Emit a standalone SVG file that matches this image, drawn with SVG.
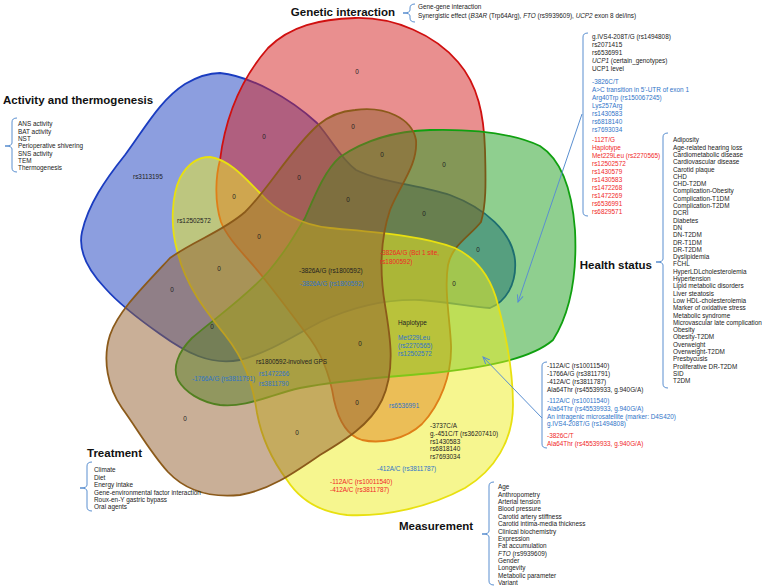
<svg xmlns="http://www.w3.org/2000/svg" width="762" height="587" viewBox="0 0 762 587">
<style>
.t{font-family:"Liberation Sans",Arial,sans-serif;font-size:6.4px;fill:#222}
.b{fill:#2f74c8}
.r{fill:#f02828}
.h{font-family:"Liberation Sans",Arial,sans-serif;font-size:11.5px;font-weight:bold;fill:#111}
.br{fill:none;stroke:#5a8fd0;stroke-width:1}
.set{stroke-width:1.8;fill-opacity:0.5}
</style>
<defs>
<marker id="ah" markerWidth="8" markerHeight="8" refX="7" refY="4" orient="auto" markerUnits="userSpaceOnUse">
<path d="M0,1 L7,4 L0,7" fill="none" stroke="#5a8fd0" stroke-width="1"/>
</marker>
</defs>
<rect width="762" height="587" fill="#fff"/>
<g id="activity">
<path class="set" d="M 220,73 C 250,76 290,98 317,123 C 332,140 340,158 356,170 C 380,182 420,185 450,195 C 485,208 512,232 515,260 C 517,285 505,302 490,308 C 470,307 450,302 420,300 C 385,299 350,308 320,322 C 295,335 270,352 240,360 C 210,366 185,352 160,334 C 140,320 120,305 105,288 C 88,270 78,250 82,232 C 88,205 105,180 125,155 C 145,128 160,100 185,84 C 197,77 208,73 220,73 Z" fill="#1a3dbf" stroke="#1a3cc0"/>
</g>
<g id="genetic">
<path class="set" d="M 355,18 C 395,17 435,35 458,62 C 478,85 484,115 485,150 C 486,185 486,205 481,222 C 470,236 452,245 448,265 C 444,290 450,320 451,345 C 452,375 440,405 422,424 C 405,440 380,444 362,440 C 345,435 338,418 334,400 C 330,375 320,350 305,332 C 290,312 275,292 262,276 C 248,258 228,240 221,222 C 214,200 216,175 220,160 C 225,120 240,80 268,48 C 290,26 320,19 355,18 Z" fill="#d42020" stroke="#d01010"/>
</g>
<g id="health">
<path class="set" d="M 340,157 C 365,140 395,131 430,130 C 470,129 510,132 540,146 C 562,160 572,190 575,230 C 577,270 572,310 553,340 C 530,360 480,368 433,373 C 390,377 340,380 300,388 C 270,395 245,408 220,405 C 200,402 185,392 178,380 C 172,368 178,352 192,338 C 215,318 245,298 268,272 C 285,252 295,235 305,218 C 315,195 325,170 340,157 Z" fill="#20a020" stroke="#10a010"/>
</g>
<g id="measurement">
<path class="set" d="M 210,157 C 230,160 245,178 260,193 C 275,210 300,225 330,228 C 370,232 420,235 455,248 C 480,260 492,280 498,305 C 506,335 513,370 513,405 C 513,440 495,470 465,488 C 430,507 385,517 347,515 C 320,512 300,500 287,480 C 272,460 262,440 257,413 C 253,385 245,360 225,335 C 205,310 185,285 177,250 C 170,225 172,195 180,178 C 188,163 198,157 210,157 Z" fill="#eeee20" stroke="#e8e010"/>
</g>
<g id="treatment">
<path class="set" d="M 355,110 C 385,106 412,118 416,140 C 418,165 400,185 390,210 C 380,240 380,275 385,305 C 390,335 396,370 382,400 C 370,425 345,440 320,455 C 295,472 270,490 240,495 C 210,498 185,490 168,472 C 150,452 138,430 122,408 C 108,388 102,360 110,335 C 118,312 140,290 170,258 C 195,240 222,232 245,212 C 268,190 290,150 318,125 C 330,115 342,111 355,110 Z" fill="#946030" stroke="#8b5a1a"/>
</g>
<g id="region-labels" class="t">
<text x="357" y="74" text-anchor="middle">0</text>
<text x="264" y="139" text-anchor="middle">0</text>
<text x="353" y="129" text-anchor="middle">0</text>
<text x="382" y="157" text-anchor="middle">0</text>
<text x="444" y="167" text-anchor="middle">0</text>
<text x="299" y="180" text-anchor="middle">0</text>
<text x="348" y="202" text-anchor="middle">0</text>
<text x="424" y="216" text-anchor="middle">0</text>
<text x="234" y="199" text-anchor="middle">0</text>
<text x="259" y="239" text-anchor="middle">0</text>
<text x="219" y="271" text-anchor="middle">0</text>
<text x="172" y="292" text-anchor="middle">0</text>
<text x="212" y="329" text-anchor="middle">0</text>
<text x="478" y="252" text-anchor="middle">0</text>
<text x="454" y="286" text-anchor="middle">0</text>
<text x="360" y="346" text-anchor="middle">0</text>
<text x="357" y="405" text-anchor="middle">0</text>
<text x="297" y="435" text-anchor="middle">0</text>
<text x="185" y="421" text-anchor="middle">0</text>
<text x="133" y="179">rs3113195</text>
<text x="177" y="223">rs12502572</text>
<text x="299" y="273">-3826A/G (rs1800592)</text>
<text x="300" y="286" class="b">-3826A/G  (rs1800592)</text>
<text x="380" y="255" class="r">-3826A/G (Bcl 1 site,</text>
<text x="380" y="264" class="r">rs1800592)</text>
<text x="398" y="325">Haplotype</text>
<text x="398" y="340" class="b">Met229Leu</text>
<text x="398" y="348" class="b">(rs2270565)</text>
<text x="398" y="356" class="b">rs12502572</text>
<text x="256" y="364">rs1800592-involved GPS</text>
<text x="192" y="381" class="b">-1766A/G (rs3811791)</text>
<text x="259" y="376" class="b">rs1472266</text>
<text x="259" y="386" class="b">rs3811790</text>
<text x="389" y="408" class="b">rs6536991</text>
<text x="430" y="428">-3737C/A</text>
<text x="430" y="436">g.-451C/T (rs36207410)</text>
<text x="430" y="443.5">rs1430583</text>
<text x="430" y="451">rs6818140</text>
<text x="430" y="459">rs7693034</text>
<text x="377" y="471" class="b">-412A/C (rs3811787)</text>
<text x="330" y="484" class="r">-112A/C (rs10011540)</text>
<text x="330" y="492" class="r">-412A/C (rs3811787)</text>
</g>
<g id="connectors">
<path class="br" d="M 415,4 Q 410,4 410,8 L 410,10 Q 410,13 403,13 Q 410,13 410,16 L 410,18 Q 410,22 415,22"/>
<path class="br" d="M 17,118 Q 12,118 12,122 L 12,143 Q 12,146 5,146 Q 12,146 12,149 L 12,168 Q 12,172 17,172"/>
<path class="br" d="M 92,462 Q 87,462 87,466 L 87,485 Q 87,488 80,488 Q 87,488 87,491 L 87,507 Q 87,511 92,511"/>
<path class="br" d="M 494,482 Q 489,482 489,486 L 489,531 Q 489,534 482,534 Q 489,534 489,537 L 489,581 Q 489,585 494,585"/>
<path class="br" d="M 668,133 Q 663,133 663,137 L 663,259 Q 663,262 656,262 Q 663,262 663,265 L 663,384 Q 663,388 668,388"/>
<path class="br" d="M 588,33 Q 583,33 583,37 L 583,212 Q 583,216 588,216"/>
<path class="br" d="M 547,362 Q 542,362 542,366 L 542,444 Q 542,448 547,448"/>
<path class="br" d="M 582,114 L 518,302" marker-end="url(#ah)"/>
<path class="br" d="M 542,418 L 483,357" marker-end="url(#ah)"/>
</g>
<g id="titles">
<text class="h" x="395" y="16" text-anchor="end">Genetic interaction</text>
<text class="h" x="3" y="104">Activity and thermogenesis</text>
<text class="h" x="652" y="269" text-anchor="end">Health status</text>
<text class="h" x="87" y="457">Treatment</text>
<text class="h" x="399" y="530">Measurement</text>
</g>
<g id="genetic-list" class="t">
<text x="418" y="9">Gene-gene interaction</text>
<text x="418" y="17.5">Synergistic effect (<tspan font-style="italic">B3AR</tspan> (Trp64Arg), <tspan font-style="italic">FTO</tspan> (rs9939609), <tspan font-style="italic">UCP2</tspan> exon 8 del/ins)</text>
</g>
<g id="activity-list" class="t">
<text x="18" y="126.3">ANS activity</text>
<text x="18" y="133.6">BAT activity</text>
<text x="18" y="140.9">NST</text>
<text x="18" y="148.2">Perioperative shivering</text>
<text x="18" y="155.5">SNS activity</text>
<text x="18" y="162.8">TEM</text>
<text x="18" y="170.1">Thermogenesis</text>
</g>
<g id="treatment-list" class="t">
<text x="94" y="472.3">Climate</text>
<text x="94" y="479.7">Diet</text>
<text x="94" y="487.1">Energy intake</text>
<text x="94" y="494.5">Gene-environmental factor interaction</text>
<text x="94" y="501.9">Roux-en-Y gastric bypass</text>
<text x="94" y="509.3">Oral agents</text>
</g>
<g id="measurement-list" class="t">
<text x="498" y="489.3">Age</text>
<text x="498" y="496.7">Anthropometry</text>
<text x="498" y="504.1">Arterial tension</text>
<text x="498" y="511.4">Blood pressure</text>
<text x="498" y="518.8">Carotid artery stiffness</text>
<text x="498" y="526.2">Carotid intima-media thickness</text>
<text x="498" y="533.6">Clinical biochemistry</text>
<text x="498" y="540.9">Expression</text>
<text x="498" y="548.3">Fat accumulation</text>
<text x="498" y="555.7"><tspan font-style="italic">FTO</tspan> (rs9939609)</text>
<text x="498" y="563.1">Gender</text>
<text x="498" y="570.4">Longevity</text>
<text x="498" y="577.8">Metabolic parameter</text>
<text x="498" y="585.2">Variant</text>
</g>
<g id="health-list" class="t">
<text x="673" y="142.3">Adiposity</text>
<text x="673" y="149.6">Age-related hearing loss</text>
<text x="673" y="156.9">Cardiometabolic disease</text>
<text x="673" y="164.2">Cardiovascular disease</text>
<text x="673" y="171.5">Carotid plaque</text>
<text x="673" y="178.8">CHD</text>
<text x="673" y="186.1">CHD-T2DM</text>
<text x="673" y="193.4">Complication-Obesity</text>
<text x="673" y="200.7">Complication-T1DM</text>
<text x="673" y="208">Complication-T2DM</text>
<text x="673" y="215.3">DCRI</text>
<text x="673" y="222.6">Diabetes</text>
<text x="673" y="229.9">DN</text>
<text x="673" y="237.2">DN-T2DM</text>
<text x="673" y="244.5">DR-T1DM</text>
<text x="673" y="251.8">DR-T2DM</text>
<text x="673" y="259.1">Dyslipidemia</text>
<text x="673" y="266.4">FCHL</text>
<text x="673" y="273.7">HyperLDLcholesterolemia</text>
<text x="673" y="281">Hypertension</text>
<text x="673" y="288.3">Lipid metabolic disorders</text>
<text x="673" y="295.6">Liver steatosis</text>
<text x="673" y="302.9">Low HDL-cholesterolemia</text>
<text x="673" y="310.2">Marker of oxidative stress</text>
<text x="673" y="317.5">Metabolic syndrome</text>
<text x="673" y="324.8">Microvascular late complication</text>
<text x="673" y="332.1">Obesity</text>
<text x="673" y="339.4">Obesity-T2DM</text>
<text x="673" y="346.7">Overweight</text>
<text x="673" y="354">Overweight-T2DM</text>
<text x="673" y="361.3">Presbycusis</text>
<text x="673" y="368.6">Proliferative DR-T2DM</text>
<text x="673" y="375.9">SID</text>
<text x="673" y="383.2">T2DM</text>
</g>
<g id="green-only-list" class="t">
<text x="592" y="39">g.IVS4-208T/G (rs1494808)</text>
<text x="592" y="47">rs2071415</text>
<text x="592" y="55">rs6536991</text>
<text x="592" y="63"><tspan font-style="italic">UCP1</tspan> (certain_genotypes)</text>
<text x="592" y="71">UCP1 level</text>
<text x="592" y="84" class="b">-3826C/T</text>
<text x="592" y="92" class="b">A&gt;C transition in 5'-UTR of exon 1</text>
<text x="592" y="100" class="b">Arg40Trp (rs150067245)</text>
<text x="592" y="108" class="b">Lys257Arg</text>
<text x="592" y="116" class="b">rs1430583</text>
<text x="592" y="124" class="b">rs6818140</text>
<text x="592" y="132" class="b">rs7693034</text>
<text x="592" y="142" class="r">-112T/G</text>
<text x="592" y="150" class="r">Haplotype</text>
<text x="592" y="158" class="r">Met229Leu (rs2270565)</text>
<text x="592" y="166" class="r">rs12502572</text>
<text x="592" y="174" class="r">rs1430579</text>
<text x="592" y="182" class="r">rs1430583</text>
<text x="592" y="190" class="r">rs1472268</text>
<text x="592" y="198" class="r">rs1472269</text>
<text x="592" y="206" class="r">rs6536991</text>
<text x="592" y="214" class="r">rs6829571</text>
</g>
<g id="green-yellow-list" class="t">
<text x="547" y="368.3">-112A/C (rs10011540)</text>
<text x="547" y="376">-1766A/G (rs3811791)</text>
<text x="547" y="383.6">-412A/C (rs3811787)</text>
<text x="547" y="391.6">Ala64Thr (rs45539933, g.940G/A)</text>
<text x="547" y="403.3" class="b">-112A/C (rs10011540)</text>
<text x="547" y="411" class="b">Ala64Thr (rs45539933, g.940G/A)</text>
<text x="547" y="418.6" class="b">An intragenic microsatellite (marker: D4S420)</text>
<text x="547" y="426.3" class="b">g.IVS4-208T/G (rs1494808)</text>
<text x="547" y="438" class="r">-3826C/T</text>
<text x="547" y="445.6" class="r">Ala64Thr (rs45539933, g.940G/A)</text>
</g>
</svg>
